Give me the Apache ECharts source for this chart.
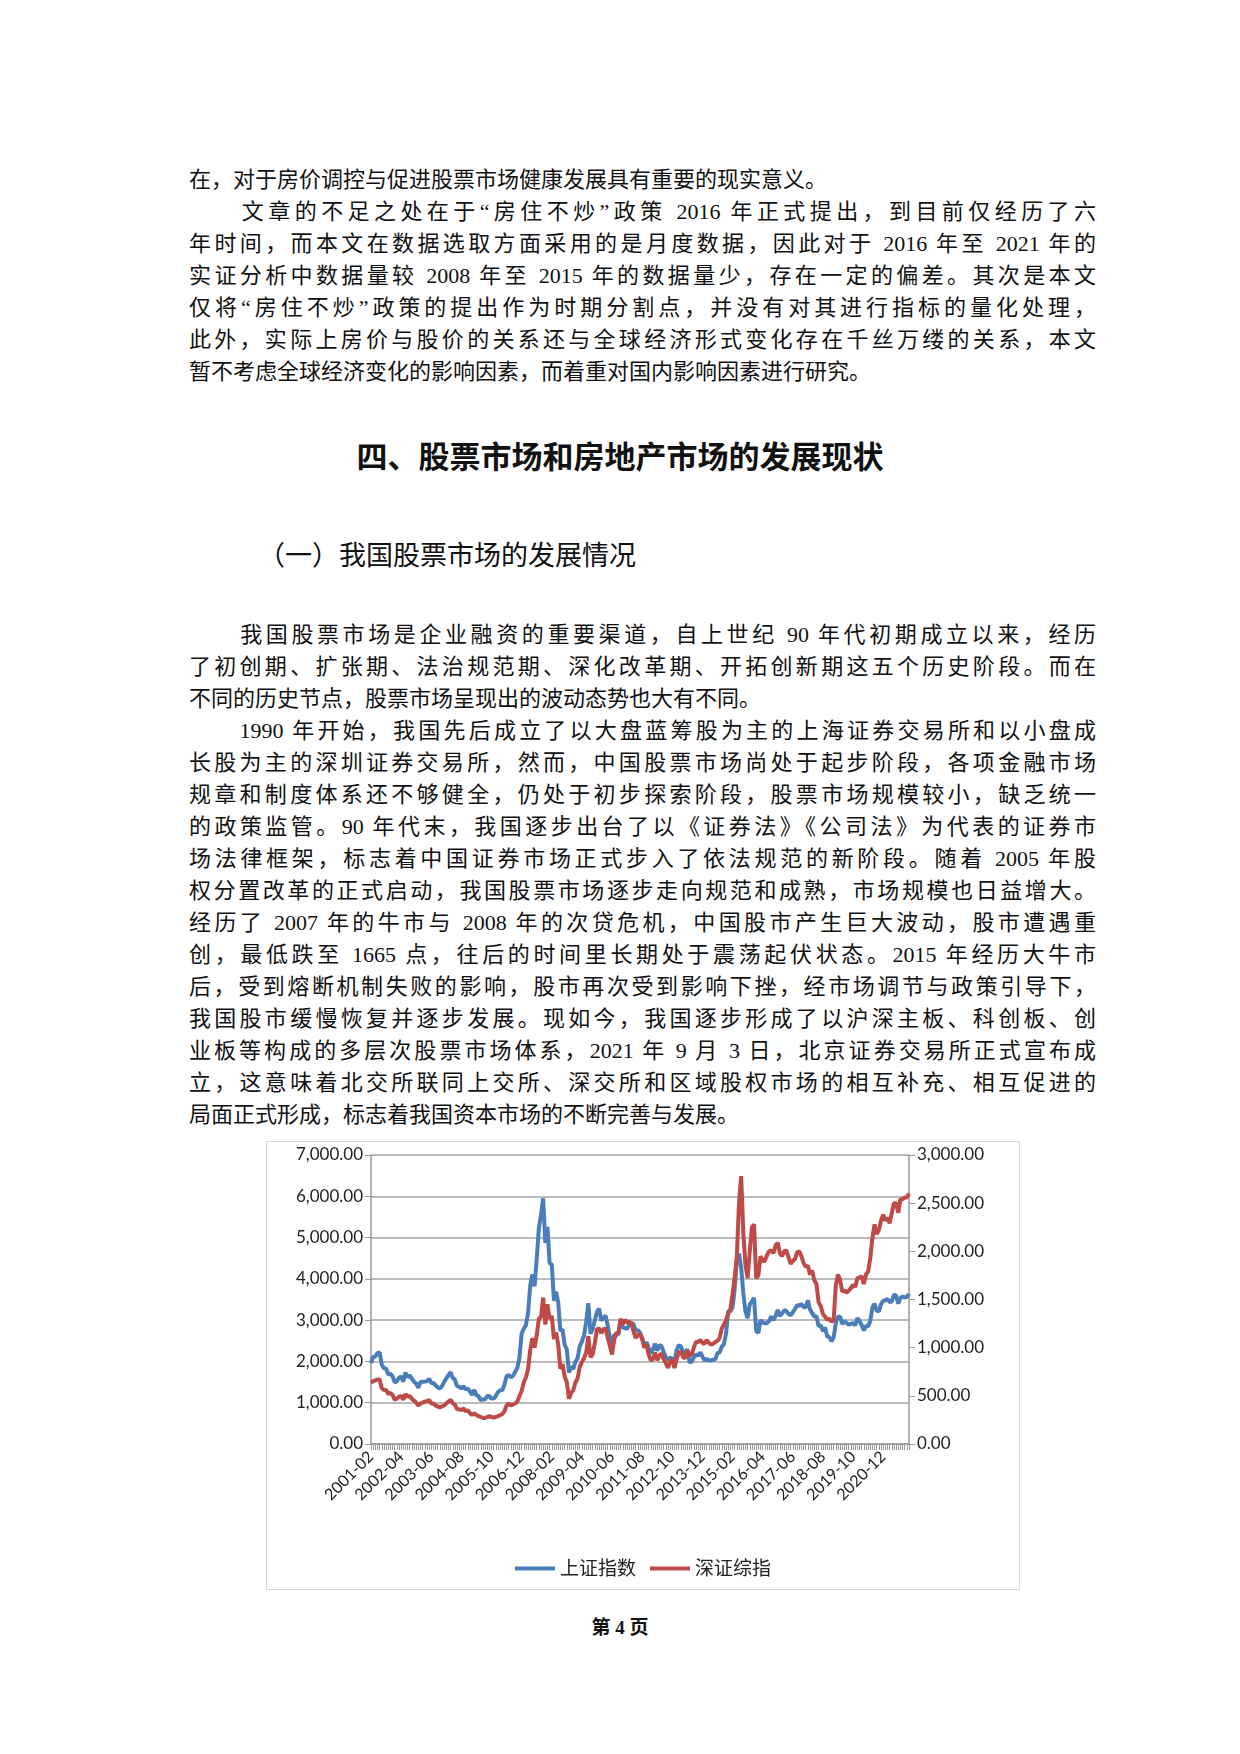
<!DOCTYPE html>
<html><head><meta charset="utf-8">
<script src="https://cdn.jsdelivr.net/npm/echarts@6/dist/echarts.min.js"></script>
<style>
body{margin:0;width:1240px;height:1754px;background:#fff;position:relative;font-family:"Liberation Serif","Noto Sans CJK SC",serif;color:#111}
.ln{position:absolute;left:189px;width:907px;font-size:22px;line-height:32px;white-space:nowrap;text-align:justify;text-align-last:justify}
.ln.end{text-align-last:left}
.h1{position:absolute;left:0;width:1240px;text-align:center;top:432px;font-size:31px;font-weight:bold;font-family:"Noto Sans CJK SC"}
.h2{position:absolute;left:258px;top:534px;font-size:27px;font-family:"Noto Sans CJK SC"}
#chart{position:absolute;left:266px;top:1141px;width:754px;height:449px;border:1px solid #d9d9d9;box-sizing:border-box}
.foot{position:absolute;left:0;width:1240px;text-align:center;top:1612px;font-size:19px;font-weight:bold}
</style></head><body>
<div class="ln end" style="top:164px">在，对于房价调控与促进股票市场健康发展具有重要的现实意义。</div>
<div class="ln" style="top:196px">　　文章的不足之处在于“房住不炒”政策 2016 年正式提出，到目前仅经历了六</div>
<div class="ln" style="top:228px">年时间，而本文在数据选取方面采用的是月度数据，因此对于 2016 年至 2021 年的</div>
<div class="ln" style="top:260px">实证分析中数据量较 2008 年至 2015 年的数据量少，存在一定的偏差。其次是本文</div>
<div class="ln" style="top:292px">仅将“房住不炒”政策的提出作为时期分割点，并没有对其进行指标的量化处理，</div>
<div class="ln" style="top:324px">此外，实际上房价与股价的关系还与全球经济形式变化存在千丝万缕的关系，本文</div>
<div class="ln end" style="top:356px">暂不考虑全球经济变化的影响因素，而着重对国内影响因素进行研究。</div>
<div class="h1">四、股票市场和房地产市场的发展现状</div>
<div class="h2">（一）我国股票市场的发展情况</div>
<div class="ln" style="top:619px">　　我国股票市场是企业融资的重要渠道，自上世纪 90 年代初期成立以来，经历</div>
<div class="ln" style="top:651px">了初创期、扩张期、法治规范期、深化改革期、开拓创新期这五个历史阶段。而在</div>
<div class="ln end" style="top:683px">不同的历史节点，股票市场呈现出的波动态势也大有不同。</div>
<div class="ln" style="top:715px">　　1990 年开始，我国先后成立了以大盘蓝筹股为主的上海证券交易所和以小盘成</div>
<div class="ln" style="top:747px">长股为主的深圳证券交易所，然而，中国股票市场尚处于起步阶段，各项金融市场</div>
<div class="ln" style="top:779px">规章和制度体系还不够健全，仍处于初步探索阶段，股票市场规模较小，缺乏统一</div>
<div class="ln" style="top:811px">的政策监管。90 年代末，我国逐步出台了以《证券法》《公司法》为代表的证券市</div>
<div class="ln" style="top:843px">场法律框架，标志着中国证券市场正式步入了依法规范的新阶段。随着 2005 年股</div>
<div class="ln" style="top:875px">权分置改革的正式启动，我国股票市场逐步走向规范和成熟，市场规模也日益增大。</div>
<div class="ln" style="top:907px">经历了 2007 年的牛市与 2008 年的次贷危机，中国股市产生巨大波动，股市遭遇重</div>
<div class="ln" style="top:939px">创，最低跌至 1665 点，往后的时间里长期处于震荡起伏状态。2015 年经历大牛市</div>
<div class="ln" style="top:971px">后，受到熔断机制失败的影响，股市再次受到影响下挫，经市场调节与政策引导下，</div>
<div class="ln" style="top:1003px">我国股市缓慢恢复并逐步发展。现如今，我国逐步形成了以沪深主板、科创板、创</div>
<div class="ln" style="top:1035px">业板等构成的多层次股票市场体系，2021 年 9 月 3 日，北京证券交易所正式宣布成</div>
<div class="ln" style="top:1067px">立，这意味着北交所联同上交所、深交所和区域股权市场的相互补充、相互促进的</div>
<div class="ln end" style="top:1099px">局面正式形成，标志着我国资本市场的不断完善与发展。</div>
<div id="chart"></div>
<div class="foot">第 4 页</div>
<script>
// 上证指数 月度 2001-02 ~ 2021-12
var sse = [
  1960,2110,2120,2200,2220,1920,1835,1830,1690,1700,1645,
  1490,1520,1600,1640,1510,1730,1620,1660,1580,1510,1460,1360,
  1500,1510,1510,1520,1580,1480,1480,1420,1370,1350,1400,1500,
  1590,1670,1740,1600,1560,1400,1390,1340,1400,1320,1340,1270,
  1190,1310,1180,1160,1060,1080,1080,1160,1160,1100,1100,1160,
  1260,1300,1300,1440,1640,1670,1610,1650,1750,1840,2100,2680,
  2790,2880,3180,3840,4110,3820,4470,5220,5550,5950,4870,5260,
  4380,4350,3470,3690,3430,2740,2780,2400,2290,1730,1870,1820,
  1990,2080,2370,2480,2630,2960,3410,2670,2780,3000,3200,3280,
  2990,3050,3110,2870,2590,2400,2640,2640,2660,2980,2820,2810,
  2790,2900,2930,2910,2740,2760,2700,2570,2360,2470,2330,2200,
  2290,2430,2260,2400,2370,2230,2100,2050,2090,2070,1980,2270,
  2390,2370,2240,2180,2300,1980,1990,2100,2170,2140,2220,2120,
  2030,2060,2030,2030,2040,2050,2200,2220,2360,2420,2680,3230,
  3210,3310,3750,4440,4610,4280,3660,3210,3050,3380,3450,3540,
  2740,2690,3000,2940,2920,2930,2980,3090,3000,3100,3250,3100,
  3160,3240,3220,3150,3120,3190,3270,3360,3350,3390,3320,3310,
  3480,3260,3170,3080,3100,2850,2880,2730,2820,2600,2590,2490,
  2580,2940,3090,3080,2900,2980,2930,2890,2910,2930,2870,3050,
  2980,2880,2750,2860,2850,2980,3310,3400,3220,3220,3390,3470,
  3480,3510,3440,3450,3620,3590,3400,3540,3570,3550,3560,3640
];
// 深证综指 月度
var szc = [
  640,650,660,670,670,580,560,560,520,530,510,
  460,470,490,500,460,520,490,500,470,450,430,400,
  420,430,440,440,460,420,420,400,390,380,390,400,
  420,440,460,420,410,360,360,350,370,340,350,320,
  300,320,300,290,280,270,270,280,290,280,275,280,
  290,300,310,340,400,420,400,410,420,440,500,550,
  640,690,780,980,1100,1000,1130,1300,1320,1520,1240,1450,
  1300,1330,1090,1160,1030,780,830,700,640,470,530,560,
  640,680,800,850,890,950,1120,900,930,1050,1190,1200,
  1150,1190,1200,1100,1020,930,1080,1150,1160,1300,1240,1290,
  1260,1270,1250,1170,1100,1130,1140,1090,1000,1030,930,870,
  880,950,870,920,940,880,840,790,850,880,790,880,
  950,960,900,890,970,920,930,1000,1060,1060,1080,1050,
  1040,1080,1050,1030,1040,1060,1070,1100,1200,1240,1290,1350,
  1400,1560,1730,1950,2500,2780,2200,1860,1720,2000,2250,2280,
  1720,1750,1950,1900,1900,1960,2000,2010,1980,2060,2090,1980,
  1950,2000,2010,1940,1870,1900,1920,1990,2000,1950,1880,1840,
  1850,1760,1800,1700,1660,1470,1430,1350,1320,1290,1300,1270,
  1290,1650,1760,1700,1580,1600,1570,1590,1620,1650,1630,1720,
  1730,1740,1660,1760,1790,1930,2140,2280,2180,2220,2320,2380,
  2320,2350,2290,2400,2500,2500,2400,2540,2540,2560,2560,2600
];
var months = [];
for (var i = 0; i < sse.length; i++) {
  var m = i + 1; // 从 2001-02 开始
  var y = 2001 + Math.floor(m / 12), mm = m % 12 + 1;
  months.push(y + '-' + (mm < 10 ? '0' + mm : mm));
}

function fmt(v) {
  return v.toFixed(2).replace(/\B(?=(\d{3})+(?!\d))/g, ',');
}

var chart = echarts.init(document.getElementById('chart'));
var font = '"Lato","Noto Sans CJK SC"';
chart.setOption({
  animation: false,
  color: ['#4a7ebb', '#be4b48'],
  grid: {left: 104, right: 110, top: 13, bottom: 145},
  legend: {
    bottom: 6, itemWidth: 40, itemHeight: 4, itemGap: 14,
    icon: 'rect',
    textStyle: {fontSize: 19, color: '#222', fontFamily: font},
    data: ['上证指数', '深证综指']
  },
  xAxis: {
    type: 'category', data: months, boundaryGap: false,
    axisLine: {lineStyle: {color: '#999', width: 1.5}},
    axisTick: {interval: 0, length: 6, lineStyle: {color: '#999'}},
    axisLabel: {interval: 13, rotate: 45, fontSize: 16, color: '#222', fontFamily: font, margin: 10}
  },
  yAxis: [{
    type: 'value', min: 0, max: 7000, interval: 1000,
    axisLine: {show: true, lineStyle: {color: '#999', width: 1.5}},
    axisTick: {show: true, length: 6, lineStyle: {color: '#999'}},
    splitLine: {lineStyle: {color: '#a6a6a6', width: 1.5}},
    axisLabel: {formatter: fmt, fontSize: 17, color: '#222', fontFamily: font}
  }, {
    type: 'value', min: 0, max: 3000, interval: 500,
    axisLine: {show: true, lineStyle: {color: '#999', width: 1.5}},
    axisTick: {show: true, length: 6, lineStyle: {color: '#999'}},
    splitLine: {show: false},
    axisLabel: {formatter: fmt, fontSize: 17, color: '#222', fontFamily: font}
  }],
  series: [{
    name: '上证指数', type: 'line', data: sse, yAxisIndex: 0,
    symbol: 'none', lineStyle: {width: 4}
  }, {
    name: '深证综指', type: 'line', data: szc, yAxisIndex: 1,
    symbol: 'none', lineStyle: {width: 4}
  }]
});
</script>
</body></html>
